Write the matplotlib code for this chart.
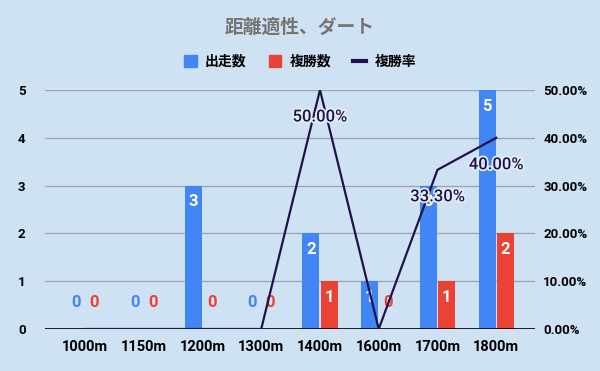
import numpy as np
import matplotlib.pyplot as plt
import matplotlib.patheffects as pe
from matplotlib.lines import Line2D
from matplotlib.patches import Patch

plt.rcParams['font.family'] = ['Roboto', 'Noto Sans CJK JP', 'DejaVu Sans']

distances = ['1000m', '1150m', '1200m', '1300m', '1400m', '1600m', '1700m', '1800m']
starts = [0, 0, 3, 0, 2, 1, 3, 5]
places = [0, 0, 0, 0, 1, 0, 1, 2]
place_rate = [0, 0, 0, 0, 50.0, 0, 33.3, 40.0]

bg = '#cfe2f3'
blue = '#4285f4'
red = '#ea4335'
navy = '#20124d'

fig = plt.figure(figsize=(6, 3.71), dpi=100, facecolor=bg)
ax = fig.add_axes([0.075, 0.1132, 0.8167, 0.6442])
ax.set_facecolor(bg)
ax2 = ax.twinx()

x = np.arange(len(distances))
w = 0.29
off = 0.155
ax.bar(x - off, starts, w, color=blue, zorder=2)
ax.bar(x + off, places, w, color=red, zorder=2)

# bar value labels: white inside the bar, coloured above the axis for zeros
for xs, vals, col in ((x - off, starts, blue), (x + off, places, red)):
    for xi, v in zip(xs, vals):
        if v > 0:
            ax.annotate(str(v), (xi, v), xytext=(0, -16), textcoords='offset pixels',
                        ha='center', va='center', color='white', fontsize=12, fontweight='bold', zorder=5)
        else:
            ax.annotate('0', (xi, 0.55), ha='center', va='center', color=col,
                        fontsize=12, fontweight='bold', zorder=5)

ax2.plot(x, place_rate, color=navy, lw=1.6, zorder=3)
for xi, v in zip(x, place_rate):
    if v > 0:
        ax2.annotate(f'{v:.2f}%', (xi, v), xytext=(0, -27), textcoords='offset pixels',
                     ha='center', va='center', color=navy, fontsize=12, fontweight='medium',
                     path_effects=[pe.withStroke(linewidth=2.5, foreground='#e3eef8')])

ax.set_xlim(-0.68, 7.66)
ax.set_ylim(0, 5)
ax2.set_ylim(0, 50)
ax.set_yticks(range(6))
ax2.set_yticks(range(0, 51, 10))
ax2.set_yticklabels([f'{t:.2f}%' for t in range(0, 51, 10)])
ax.set_xticks(x)
ax.set_xticklabels(distances)

ax.grid(axis='y', color='#9aa7b5', lw=1, zorder=0)
ax.set_axisbelow(True)
for a in (ax, ax2):
    for s in a.spines.values():
        s.set_visible(False)
    a.tick_params(length=0, labelsize=9.5)
    for lab in a.get_yticklabels() + a.get_xticklabels():
        lab.set_fontweight('bold')
ax.axhline(0, color='black', lw=1.2, zorder=4)
ax.tick_params(axis='y', pad=14)
ax.tick_params(axis='x', pad=8, labelsize=10.5)
ax2.tick_params(axis='y', pad=6)

fig.text(0.5, 0.925, '距離適性、ダート', ha='center', va='center', fontsize=13.5,
         fontweight='bold', color='#757575', family=['Noto Sans CJK JP', 'DejaVu Sans'])

handles = [Patch(color=blue), Patch(color=red), Line2D([0], [0], color=navy, lw=3)]
fig.legend(handles, ['出走数', '複勝数', '複勝率'], loc='center', bbox_to_anchor=(0.5, 0.833),
           ncol=3, frameon=False, handlelength=0.9, handleheight=0.9, handletextpad=0.6,
           columnspacing=1.6, prop={'family': ['Noto Sans CJK JP', 'DejaVu Sans'], 'size': 10, 'weight': 'bold'})

fig.savefig('out.png', dpi=100, facecolor=bg)
